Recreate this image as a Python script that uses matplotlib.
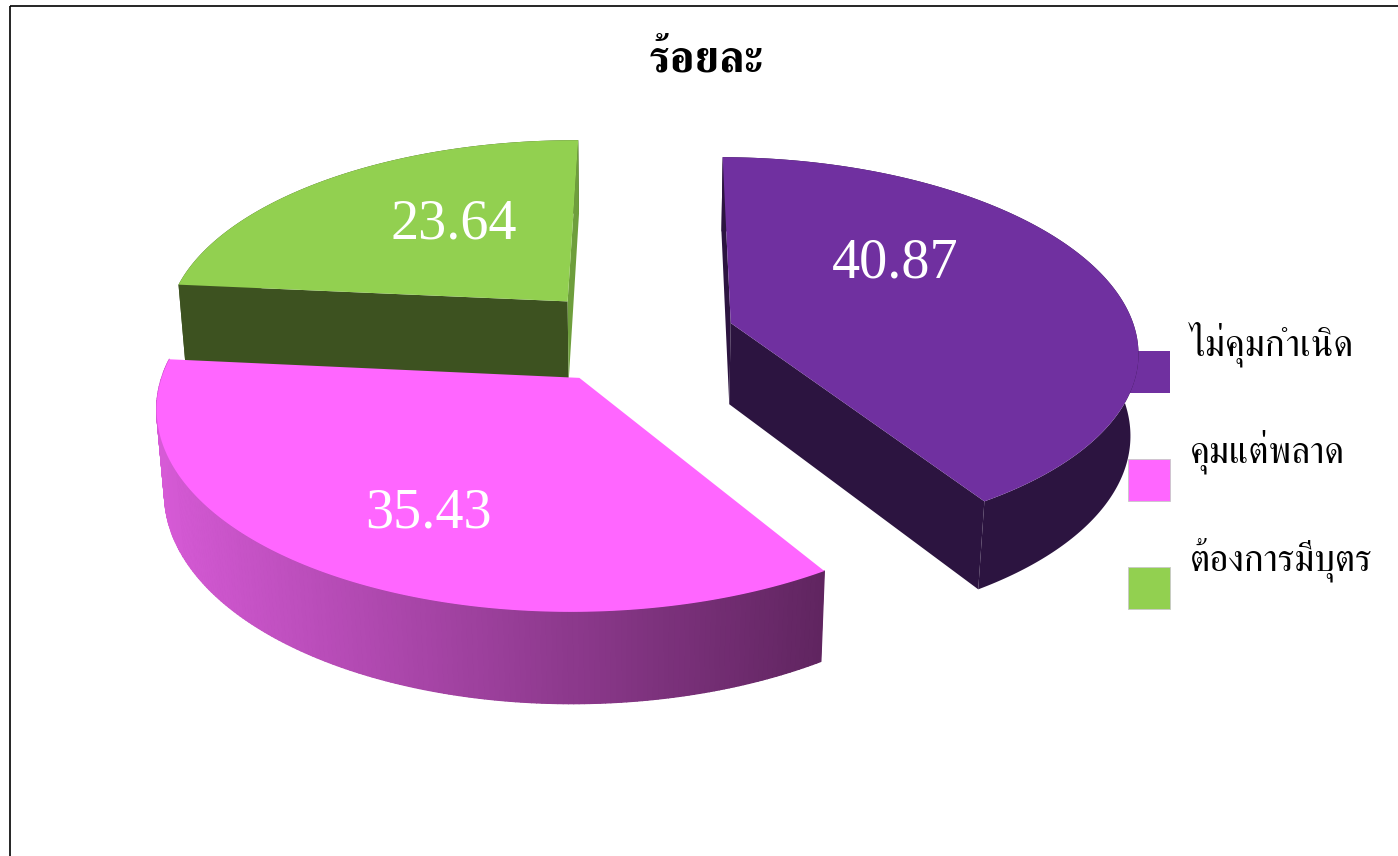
import matplotlib
matplotlib.use("Agg")
import matplotlib.pyplot as plt
import numpy as np
from matplotlib.collections import PolyCollection
from matplotlib.colors import to_rgb
from matplotlib.patches import Polygon, Rectangle

# Data
title = "ร้อยละ"
labels = ["ไม่คุมกำเนิด", "คุมแต่พลาด", "ต้องการมีบุตร"]
values = [40.87, 35.43, 23.64]

# Styles
top_colors = ["#7030A0", "#FF66FF", "#92D050"]
wall_light = ["#2C1440", "#D65AD6", "#3D5220"]
wall_dark = ["#2C1440", "#602560", "#3D5220"]
# colours of the two cut faces of each slice (None = faces away from us)
start_face = ["#2C1440", None, "#3D5220"]
end_face = ["#2C1440", None, "#6E9E3C"]
label_xy = [(895, 263), (428, 514), (454, 224)]
legend_y = [372, 480, 588]

# pie geometry, in pixels of the picture
CX, CY = 634, 336
AX_X, AX_Y = 406, 191
PERSP = 0.132
DEPTH = 83
SHRINK = 0.016
EXPLODE = 0.25
START = 0.5

SERIF = ["Liberation Serif", "FreeSerif", "DejaVu Sans"]
THAI = ["FreeSerif", "DejaVu Sans"]


def project(u, v, z=0.0):
    w = 1 + PERSP * v + SHRINK * z
    return CX + AX_X * u / w, CY + (-AX_Y * v + DEPTH * z) / w


def blend(c1, c2, t):
    a, b = np.array(to_rgb(c1)), np.array(to_rgb(c2))
    return tuple(a + (b - a) * t)


fig = plt.figure(figsize=(13.98, 8.56), dpi=100)
ax = fig.add_axes([0, 0, 1, 1])
ax.set_xlim(0, 1398)
ax.set_ylim(856, 0)
ax.axis("off")

# wedge angles, clockwise from the back of the pie
shares = np.array(values) / sum(values) * 360
starts = START + np.concatenate([[0], np.cumsum(shares)[:-1]])

# back slice first so the front one sits over it
for i in [2, 0, 1]:
    a0, a1 = starts[i], starts[i] + shares[i]
    mid = np.radians((a0 + a1) / 2)
    ou, ov = EXPLODE * np.sin(mid), EXPLODE * np.cos(mid)
    th = np.radians(np.linspace(a0, a1, 200))
    us, vs = ou + np.sin(th), ov + np.cos(th)

    # outer wall, a flat base and then the shading strips
    tx, ty = project(us, vs)
    bx, by = project(us, vs, 1)
    ax.add_patch(Polygon(np.column_stack([np.r_[tx, bx[::-1]], np.r_[ty, by[::-1]]]), closed=True,
                         fc=wall_dark[i], ec="none", zorder=2))
    if wall_light[i] != wall_dark[i]:
        polys, cols = [], []
        for k in range(len(us) - 1):
            polys.append([(tx[k], ty[k]), (tx[k + 1], ty[k + 1]), (bx[k + 1], by[k + 1]), (bx[k], by[k])])
            t = (tx[k] - tx.min()) / (tx.max() - tx.min())
            cols.append(blend(wall_light[i], wall_dark[i], t))
        ax.add_collection(PolyCollection(polys, facecolors=cols, edgecolors=cols, linewidths=0.9, zorder=2))

    # cut faces
    for j, col in [(0, start_face[i]), (-1, end_face[i])]:
        if col is None:
            continue
        quad = [project(ou, ov), project(us[j], vs[j]), project(us[j], vs[j], 1), project(ou, ov, 1)]
        ax.add_patch(Polygon(quad, closed=True, fc=col, ec="none", zorder=2))

    # top face
    apex_x, apex_y = project(ou, ov)
    ax.add_patch(Polygon(np.column_stack([np.r_[apex_x, tx], np.r_[apex_y, ty]]), closed=True,
                         fc=top_colors[i], ec="none", zorder=3))

# value labels
for val, (lx, ly) in zip(values, label_xy):
    ax.text(lx, ly, f"{val:.2f}", color="white", fontsize=40.5, family=SERIF,
            ha="center", va="center", zorder=5)

# legend, the first swatch sits behind the pie
for n, (lab, col, y) in enumerate(zip(labels, top_colors, legend_y)):
    ax.add_patch(Rectangle((1128, y - 21), 42, 42, fc=col, ec="#c8c8c8" if n else "none",
                           lw=0.6, zorder=6 if n else 1))
    ax.text(1190, y - 28, lab, fontsize=26.8, family=THAI, color="black", ha="left", va="center", zorder=6)

ax.text(706, 61, title, fontsize=32, family=THAI, fontweight="bold", color="black",
        ha="center", va="center", zorder=6)

# chart frame
ax.plot([10, 10], [856, 5.5], color="black", lw=1.2, zorder=7, solid_capstyle="butt")
ax.plot([10, 1398], [5.5, 5.5], color="black", lw=1.2, zorder=7, solid_capstyle="butt")

fig.set_facecolor("white")
fig.savefig("out.png", dpi=100)
